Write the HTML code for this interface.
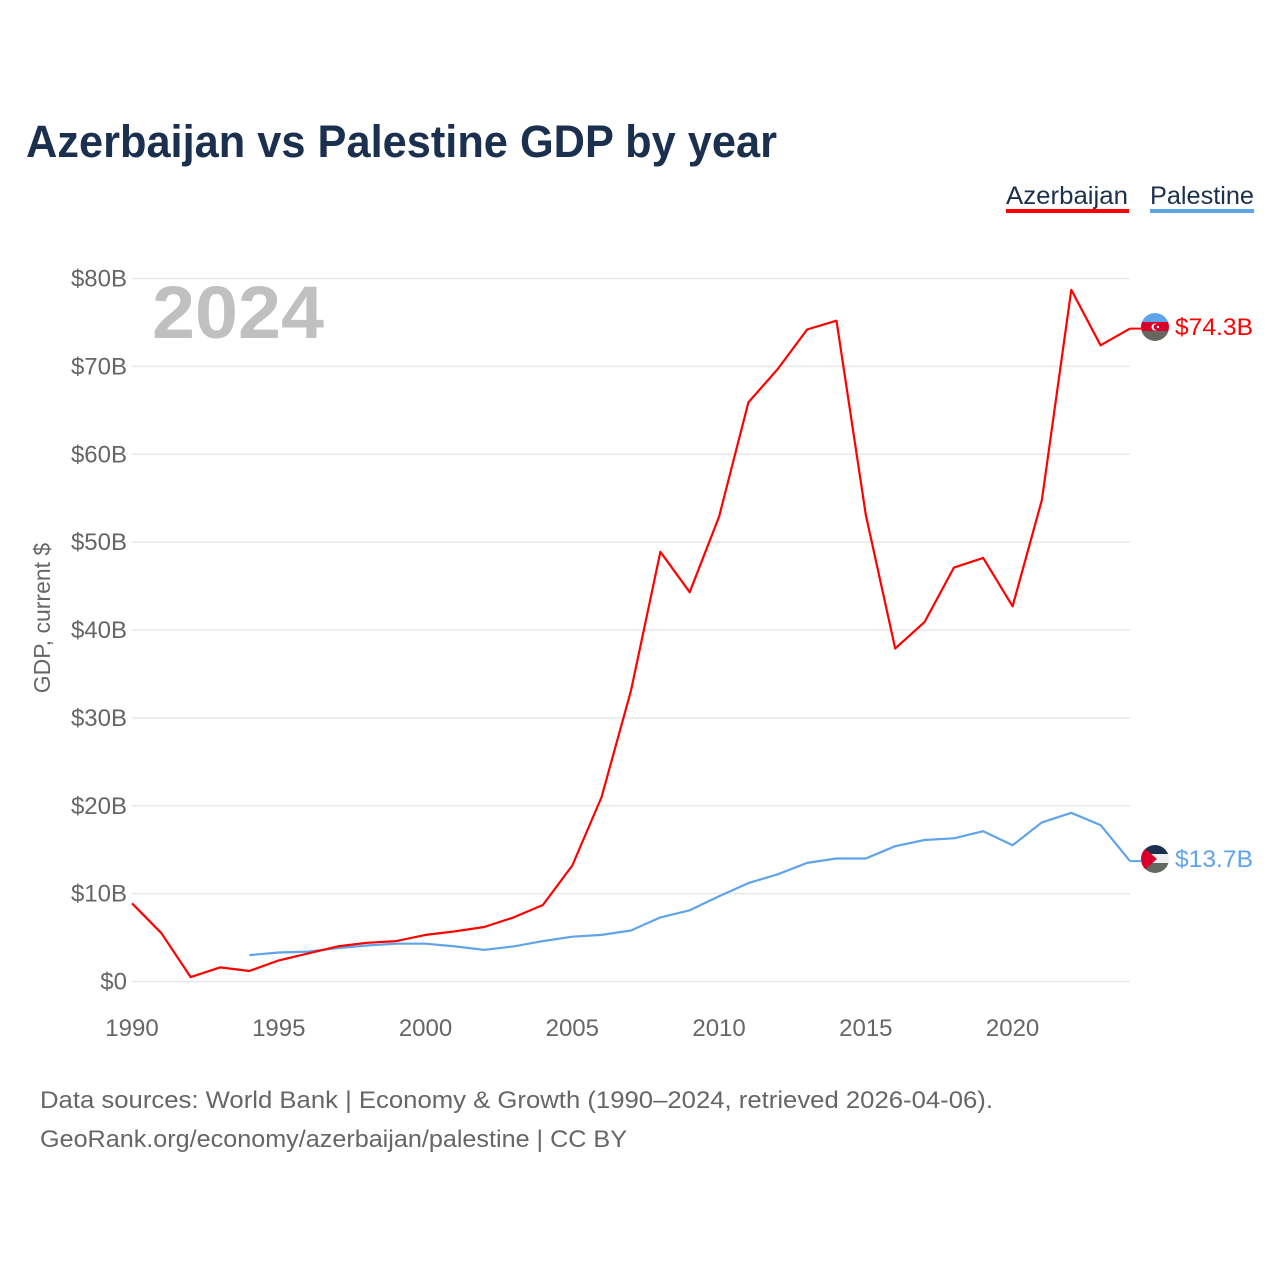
<!DOCTYPE html>
<html><head><meta charset="utf-8"><style>
html,body{margin:0;padding:0;background:#fff;width:1280px;height:1280px;overflow:hidden}
svg{display:block;font-family:"Liberation Sans",sans-serif}
</style></head><body>
<svg id="chart" width="1280" height="1280" viewBox="0 0 1280 1280">
<text x="26" y="157" font-size="45" font-weight="bold" fill="#1b2f4e" textLength="751" lengthAdjust="spacingAndGlyphs">Azerbaijan vs Palestine GDP by year</text>
<g>
<text x="1006" y="204" font-size="25" fill="#1b2f4e" textLength="122" lengthAdjust="spacingAndGlyphs">Azerbaijan</text>
<rect x="1006" y="209" width="123" height="4" fill="#ff0000"/>
<text x="1150" y="204" font-size="25" fill="#1b2f4e" textLength="104" lengthAdjust="spacingAndGlyphs">Palestine</text>
<rect x="1150" y="209" width="104" height="4" fill="#5fa4ea"/>
</g>
<g id="grid"></g>
<g id="yticks"></g>
<g id="xticks"></g>
<text x="152" y="338" font-size="74" font-weight="bold" fill="#c0c0c0" textLength="172" lengthAdjust="spacingAndGlyphs">2024</text>
<text transform="translate(50,618) rotate(-90)" text-anchor="middle" font-size="23" fill="#666">GDP, current $</text>
<g id="lines"></g>
<g>
<clipPath id="c1"><circle cx="1155" cy="327" r="14"/></clipPath>
<g clip-path="url(#c1)"><rect x="1141" y="313" width="28" height="10" fill="#5fa4ea"/><rect x="1141" y="322" width="28" height="9" fill="#d8002a"/><rect x="1141" y="331" width="28" height="10" fill="#646860"/>
<circle cx="1155" cy="327" r="3.5" fill="#fff"/><circle cx="1156.5" cy="327" r="3" fill="#d8002a"/><circle cx="1158" cy="327" r="1.2" fill="#fff"/></g>
</g>
<text x="1175" y="335" font-size="24" fill="#ff0000" textLength="78" lengthAdjust="spacingAndGlyphs">$74.3B</text>
<g>
<clipPath id="c2"><circle cx="1155" cy="859" r="14"/></clipPath>
<g clip-path="url(#c2)"><rect x="1141" y="845" width="28" height="10" fill="#1b2f4e"/><rect x="1141" y="854" width="28" height="9" fill="#eee"/><rect x="1141" y="863" width="28" height="10" fill="#646860"/>
<polygon points="1141,845 1157,859 1141,873" fill="#d8002a"/></g>
</g>
<text x="1175" y="867" font-size="24" fill="#5fa4ea" textLength="78" lengthAdjust="spacingAndGlyphs">$13.7B</text>
<text x="40" y="1108" font-size="24" fill="#666" textLength="953" lengthAdjust="spacingAndGlyphs">Data sources: World Bank | Economy &amp; Growth (1990–2024, retrieved 2026-04-06).</text>
<text x="40" y="1147" font-size="24" fill="#666" textLength="587" lengthAdjust="spacingAndGlyphs">GeoRank.org/economy/azerbaijan/palestine | CC BY</text>
</svg>
<script>
const years=[1990,1991,1992,1993,1994,1995,1996,1997,1998,1999,2000,2001,2002,2003,2004,2005,2006,2007,2008,2009,2010,2011,2012,2013,2014,2015,2016,2017,2018,2019,2020,2021,2022,2023,2024];
const azerbaijan=[8.9,5.5,0.5,1.6,1.2,2.4,3.2,4.0,4.4,4.6,5.3,5.7,6.2,7.3,8.7,13.2,21.0,33.1,48.9,44.3,52.9,65.9,69.7,74.2,75.2,53.1,37.9,40.9,47.1,48.2,42.7,54.8,78.7,72.4,74.3];
const palestine=[null,null,null,null,3.0,3.3,3.4,3.8,4.1,4.3,4.3,4.0,3.6,4.0,4.6,5.1,5.3,5.8,7.3,8.1,9.7,11.2,12.2,13.5,14.0,14.0,15.4,16.1,16.3,17.1,15.5,18.1,19.2,17.8,13.7];
const yTicks=[0,10,20,30,40,50,60,70,80];
const yTickLabels=["$0","$10B","$20B","$30B","$40B","$50B","$60B","$70B","$80B"];
const xTicks=[1990,1995,2000,2005,2010,2015,2020];
const NS="http://www.w3.org/2000/svg";
const x=v=>132+(v-1990)*(1130-132)/34;
const y=v=>981.5-v*(981.5-278.5)/80;
function mk(tag,attrs,parent,txt){const e=document.createElementNS(NS,tag);for(const k in attrs)e.setAttribute(k,attrs[k]);if(txt!==undefined)e.textContent=txt;parent.appendChild(e);return e;}
const grid=document.getElementById('grid'),yt=document.getElementById('yticks'),xt=document.getElementById('xticks'),ln=document.getElementById('lines');
yTicks.forEach((t,i)=>{
 const g=mk('line',{x1:132,x2:1130,y1:y(t),y2:y(t),stroke:'#e8e8e8','stroke-width':1.5},grid);
 
 
 const l=mk('text',{x:127,y:y(t)+8,'text-anchor':'end','font-size':24,fill:'#666'},yt,yTickLabels[i]);
 
 
});
xTicks.forEach(t=>{
 const l=mk('text',{x:x(t),y:1036,'text-anchor':'middle','font-size':24,fill:'#666'},xt,String(t));
 
 
});
function path(arr){let d='';arr.forEach((v,i)=>{if(v==null)return;d+=(d?'L':'M')+x(years[i]).toFixed(1)+','+y(v).toFixed(1);});return d;}
const pa=mk('path',{d:path(palestine),fill:'none',stroke:'#5fa4ea','stroke-width':2.2,'stroke-linejoin':'round'},ln);


const az=mk('path',{d:path(azerbaijan),fill:'none',stroke:'#ff0000','stroke-width':2.2,'stroke-linejoin':'round'},ln);


const c1=mk('line',{x1:x(2024),x2:1141,y1:y(azerbaijan[34]),y2:y(azerbaijan[34]),stroke:'#ff0000','stroke-width':2},ln);


const c2=mk('line',{x1:x(2024),x2:1141,y1:y(palestine[34]),y2:y(palestine[34]),stroke:'#5fa4ea','stroke-width':2},ln);


</script>
</body></html>
